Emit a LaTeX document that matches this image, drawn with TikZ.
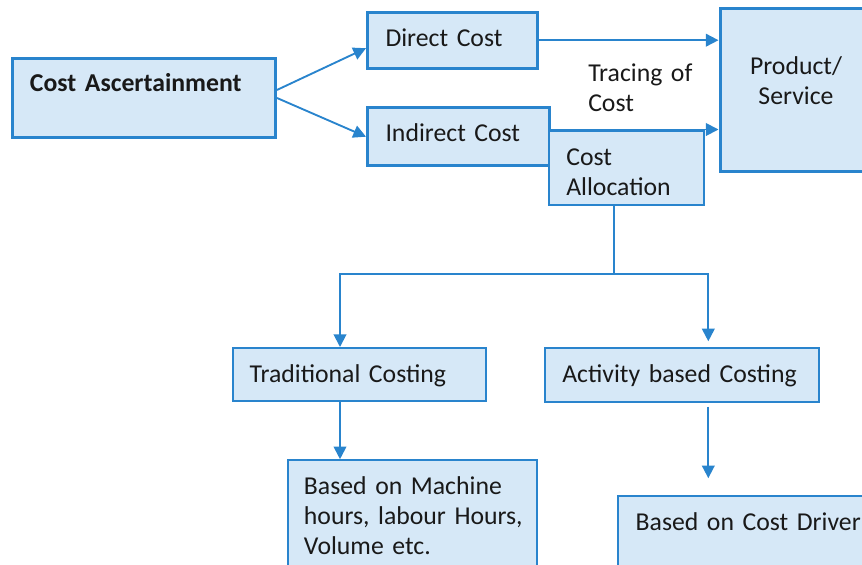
\documentclass[tikz,border=0pt]{standalone}
\usepackage{fontspec}
\setmainfont{Carlito}
\usetikzlibrary{arrows.meta,calc}
\definecolor{lineblue}{RGB}{41,132,205}
\definecolor{boxfill}{RGB}{214,232,247}
\newcommand{\boxfont}{\fontsize{19.3}{22.5}\selectfont}

\begin{document}
\begin{tikzpicture}[x=0.75pt, y=-0.75pt, >={Triangle[length=9.5pt,width=9.5pt]},
    box/.style={draw=lineblue, fill=boxfill, anchor=north west, align=left, inner ysep=0pt, text=black!90, font=\boxfont},
    thickbox/.style={box, line width=2.25pt},
    thinbox/.style={box, line width=1.5pt},
    link/.style={draw=lineblue, line width=1.4pt}]
    \useasboundingbox (0,0) rectangle (862,564);
    % cost side
    \path (11,57) node[thickbox, inner xsep=13.1pt, text width=171pt, text height=25.1pt, text depth=34.1pt] (asc) {\textbf{Cost Ascertainment}};
    \path (366,10.7) node[thickbox, inner xsep=13.5pt, text width=100.5pt, text height=26pt, text depth=16pt] (dc) {Direct Cost};
    \path (366,106) node[thickbox, inner xsep=13.5pt, text width=109.5pt, text height=25.3pt, text depth=18.5pt] (ic) {Indirect Cost};
    \path (548.3,129.5) node[thinbox, inner xsep=12.75pt, text width=90.3pt, text height=25.9pt, text depth=29.6pt] (ca) {Cost\\Allocation};
    \path (718.5,6.8) node[thickbox, align=center, inner xsep=0pt, text width=114pt, text height=49.3pt, text depth=73pt] (ps) {Product/\\Service};
    \path (588,81.7) node[anchor=base west, inner sep=0pt, text width=90pt, align=left, text=black!90, font=\boxfont] (trace) {Tracing of\\Cost};
    % costing methods
    \path (232,347) node[thinbox, inner xsep=12.5pt, text width=164.4pt, text height=26pt, text depth=13.9pt] (tc) {Traditional Costing};
    \path (544,347.3) node[thinbox, inner xsep=13pt, text width=179.7pt, text height=25.8pt, text depth=14.1pt] (abc) {Activity based Costing};
    \path (286.7,459.2) node[thinbox, inner xsep=12.2pt, text width=162.4pt, text height=25.9pt, text depth=64pt] (mh) {Based on Machine\\\mbox{hours, labour Hours,}\\Volume etc.};
    \path (617.2,495.2) node[thinbox, inner xsep=13.1pt, text width=170.3pt, text height=25.4pt, text depth=37.5pt] (cd) {Based on Cost Driver};
    \coordinate (fork) at (614,274);
    \coordinate (lbend) at (340,274);
    \coordinate (rbend) at (708.3,274);
    % arrows
    \draw [link,->] ([yshift=6pt]asc.east) -- ([yshift=-6pt]dc.west);
    \draw [link,->] (asc.east) -- (ic.west);
    \draw [link,->] (dc.east) -- (dc.east -| ps.west);
    \draw [link,->] (ic.east |- ca.north) -- (ca.north -| ps.west);
    \draw [link] (ca.south -| fork) -- (fork);
    \draw [link,->] (fork) -- (lbend) -- (lbend |- tc.north);
    \draw [link,->] (fork) -- (rbend) -- ($(rbend |- abc.north)+(0,-6)$);
    \draw [link,->] (tc.south -| lbend) -- (mh.north -| lbend);
    \draw [link,->] ($(abc.south -| rbend)+(0,4)$) -- ($(cd.north -| rbend)+(0,-17)$);
\end{tikzpicture}
\end{document}
